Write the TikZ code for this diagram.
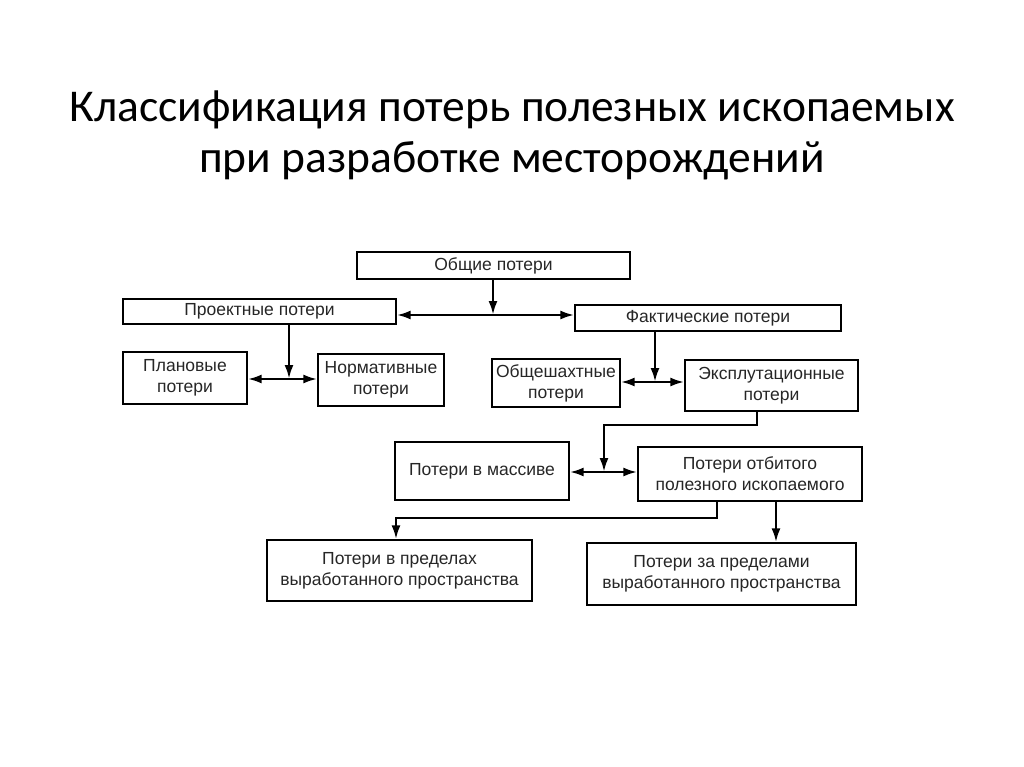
\documentclass[tikz,border=0pt]{standalone}
\usepackage{fontspec}
\setmainfont{Liberation Sans}
\newfontfamily\titlefont{Carlito}
\usepackage{tikz}
\usetikzlibrary{shapes,arrows,positioning,calc,arrows.meta}

\begin{document}
\begin{tikzpicture}[x=1pt, y=-1pt,
  box/.style={draw, line width=1.3pt, inner sep=2pt, align=center,
    font=\fontsize{17.5}{21}\selectfont, text=black!85},
  link/.style={line width=2.6pt, -{Latex[length=14pt,width=9pt]}},
  both/.style={line width=2.6pt, {Latex[length=14pt,width=9pt]}-{Latex[length=14pt,width=9pt]}}]
  \useasboundingbox (0,0) rectangle (1024,767);

  % Title
  \node[anchor=base, font=\titlefont\fontsize{45.5}{50}\selectfont] (title1) at (512,122) {Классификация потерь полезных ископаемых};
  \node[anchor=base, font=\titlefont\fontsize{45.5}{50}\selectfont] (title2) at (512,173) {при разработке месторождений};

  % Boxes
  \node[box, minimum width=273, minimum height=27] (obsh) at (493.5,265.5) {Общие потери};
  \node[box, minimum width=273, minimum height=25] (proekt) at (259.5,311.5) {Проектные потери};
  \node[box, minimum width=266, minimum height=26] (fakt) at (708,318) {Фактические потери};
  \node[box, minimum width=124, minimum height=52] (plan) at (185,378) {Плановые\\потери};
  \node[box, minimum width=126, minimum height=52] (norm) at (381,380) {Нормативные\\потери};
  \node[box, minimum width=128, minimum height=48] (obshsh) at (556,383) {Общешахтные\\потери};
  \node[box, minimum width=173, minimum height=51] (ekspl) at (771.5,385.5) {Эксплутационные\\потери};
  \node[box, minimum width=174, minimum height=58] (massiv) at (482,471) {Потери в массиве};
  \node[box, minimum width=224, minimum height=54] (otbit) at (750,474) {Потери отбитого\\полезного ископаемого};
  \node[box, minimum width=265, minimum height=61] (vpred) at (399.5,570.5) {Потери в пределах\\выработанного пространства};
  \node[box, minimum width=269, minimum height=62] (zapred) at (721.5,574) {Потери за пределами\\выработанного пространства};

  % Junctions
  \coordinate (j1) at (493,315);
  \coordinate (j2) at (289,379);
  \coordinate (j3) at (655,382);
  \coordinate (j4) at (604,472);
  \coordinate (k4) at (757,425);
  \coordinate (k5) at (717,518);

  \draw[link] (obsh.south -| j1) -- (j1);
  \draw[both] (j1 -| proekt.east) -- (j1 -| fakt.west);

  \draw[link] (proekt.south -| j2) -- (j2);
  \draw[both] (j2 -| plan.east) -- (j2 -| norm.west);

  \draw[link] (fakt.south -| j3) -- (j3);
  \draw[both] (j3 -| obshsh.east) -- (j3 -| ekspl.west);

  \draw[link] (ekspl.south -| k4) -- (k4) -| (j4);
  \draw[both] (j4 -| massiv.east) -- (j4 -| otbit.west);

  \draw[link] (otbit.south -| k5) -- (k5) -| (vpred.north -| 396,0);
  \draw[link] (otbit.south -| 776,0) -- (zapred.north -| 776,0);
\end{tikzpicture}
\end{document}
